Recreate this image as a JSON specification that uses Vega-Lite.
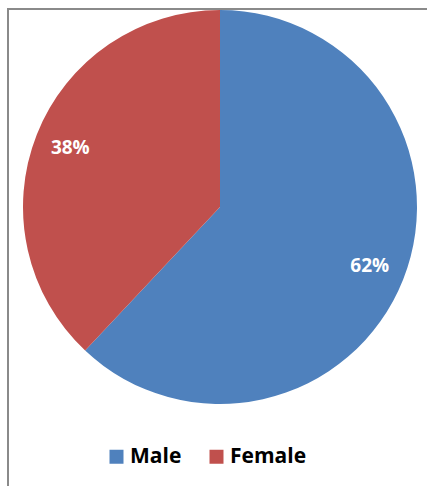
{
  "$schema": "https://vega.github.io/schema/vega-lite/v6.json",
  "autosize": "none",
  "width": 424,
  "height": 490,
  "padding": {"left": 8, "top": 9, "right": 0, "bottom": 0},
  "background": "white",
  "config": {
    "view": {"stroke": "#8a8a8a", "strokeWidth": 2},
    "font": "Open Sans"
  },
  "data": {
    "values": [
      {"gender": "Male", "pct": 62, "label": "62%"},
      {"gender": "Female", "pct": 38, "label": "38%"}
    ]
  },
  "layer": [
    {
      "mark": {"type": "point", "opacity": 0},
      "encoding": {
        "x": {"field": "pct", "type": "quantitative", "axis": null},
        "y": {"field": "pct", "type": "quantitative", "axis": null}
      }
    },
    {
      "encoding": {
        "theta": {"field": "pct", "type": "quantitative", "stack": true},
        "order": {"field": "pct", "type": "quantitative", "sort": "descending"},
        "color": {
          "field": "gender",
          "type": "nominal",
          "scale": {"domain": ["Male", "Female"], "range": ["#4F81BD", "#C0504D"]},
          "legend": {
            "title": null,
            "orient": "none",
            "direction": "horizontal",
            "legendX": 98,
            "legendY": 437,
            "padding": 0,
            "symbolType": "square",
            "symbolSize": 196,
            "symbolStrokeWidth": 0,
            "symbolOpacity": 1,
            "labelFont": "Open Sans",
            "labelFontSize": 21,
            "labelFontWeight": "bold",
            "labelColor": "#000000",
            "labelOffset": 3,
            "columnPadding": 24
          }
        }
      },
      "layer": [
        {"mark": {"type": "arc", "radius": 197, "y": 198}},
        {
          "mark": {"type": "text", "radius": 161, "y": 198, "font": "Open Sans", "fontSize": 19, "fontWeight": "bold", "fill": "white", "baseline": "middle", "align": "center"},
          "encoding": {"text": {"field": "label"}}
        }
      ]
    }
  ]
}
